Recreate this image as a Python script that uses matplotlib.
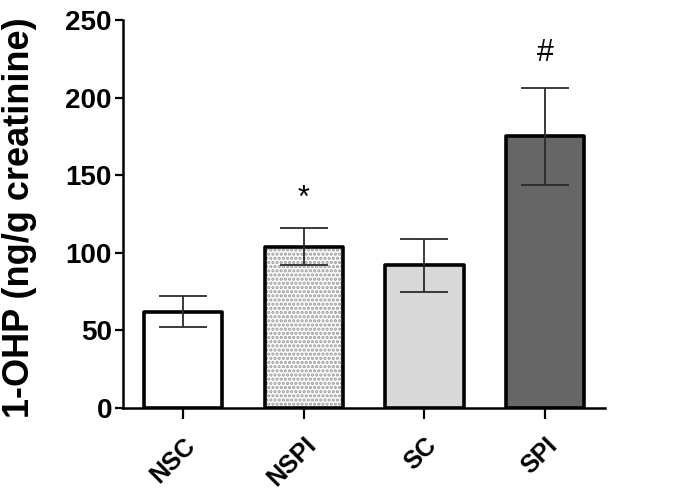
import numpy as np
import matplotlib
matplotlib.use("Agg")
import matplotlib.pyplot as plt

groups = ["NSC", "NSPI", "SC", "SPI"]
means = [62, 104, 92, 175]
sem = [10, 12, 17, 31]
marks = ["", "*", "", "#"]
mark_y = [0, 135, 0, 229]
fills = ["white", "white", "#d8d8d8", "#666666"]
hatches = [None, "....", None, None]

plt.rcParams.update({
    "font.family": ["Liberation Sans", "DejaVu Sans"],
    "font.weight": "bold",
    "hatch.linewidth": 1.6,
})

fig = plt.figure(figsize=(6.91, 5.03), dpi=100)
ax = fig.add_axes([0.178, 0.189, 0.698, 0.771])

x = np.arange(len(groups))
# fill layer (hatch drawn in grey), then a black outline on top
for i in range(len(groups)):
    ax.bar(x[i], means[i], width=0.65, color=fills[i], edgecolor="#9a9a9a",
           hatch=hatches[i], linewidth=0, zorder=2)
ax.bar(x, means, width=0.65, facecolor="none", edgecolor="black",
       linewidth=2.6, joinstyle="round", zorder=3)
ax.errorbar(x, means, yerr=sem, fmt="none", ecolor="#2b2b2b",
            elinewidth=1.3, capsize=17, capthick=1.3, zorder=4)

for i, m in enumerate(marks):
    if m:
        ax.text(x[i], mark_y[i], m, ha="center", va="center",
                fontsize=22, fontweight="normal")

ax.set_xlim(-0.5, 3.5)
ax.set_ylim(0, 250)
ax.set_yticks([0, 50, 100, 150, 200, 250])
ax.set_xticks(x)
ax.set_xticklabels(groups, rotation=45, ha="right", rotation_mode="anchor",
                   fontsize=18, fontweight="bold")
ax.tick_params(axis="y", labelsize=20, width=1.6, length=6, pad=2)
ax.tick_params(axis="x", width=1.6, length=8, pad=10)
for lbl in ax.get_yticklabels():
    lbl.set_fontweight("bold")
ax.set_ylabel("1-OHP (ng/g creatinine)", fontsize=26, fontweight="bold")
ax.yaxis.set_label_coords(-0.178, 0.49)

for s in ["top", "right"]:
    ax.spines[s].set_visible(False)
for s in ["left", "bottom"]:
    ax.spines[s].set_linewidth(1.8)

fig.savefig("out.png", dpi=100)
